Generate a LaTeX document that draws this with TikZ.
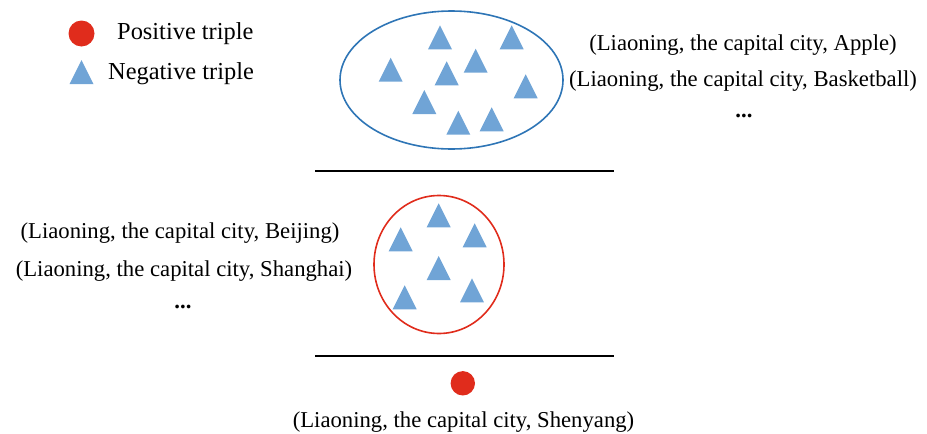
\documentclass[tikz,border=0pt]{standalone}
\usepackage{fontspec}
\setmainfont{Liberation Serif}
\definecolor{tri}{RGB}{112,164,214}
\definecolor{ellblue}{RGB}{46,117,182}
\definecolor{posred}{RGB}{224,44,28}
\tikzset{
  lbl/.style={inner sep=0pt, font=\fontsize{22.7}{26}\selectfont},
  dotsnode/.style={inner sep=0pt, font=\fontsize{22.7}{26}\selectfont\bfseries},
  leg/.style={inner sep=0pt, anchor=west, font=\fontsize{24.4}{28}\selectfont},
  sepline/.style={line width=2pt, black},
}
% triangle: base centre given
\newcommand{\negtri}[2]{\fill[tri] (#1-12,#2) -- (#1+12,#2) -- (#1,#2-24) -- cycle;}
\begin{document}
\begin{tikzpicture}[x=1pt,y=-1pt]
\useasboundingbox (0,0) rectangle (927,434);
% legend
\fill[posred] (81.5,33.5) circle (13);
\node[leg] (lpos) at (117,34) {Positive triple};
\negtri{81.5}{84}
\node[leg] (lneg) at (108,74) {Negative triple};
% top ellipse
\draw[ellblue, line width=1.6pt] (451.5,80) ellipse (111.5 and 69);
\negtri{440}{49.3}
\negtri{511.7}{49.3}
\negtri{390.7}{81.7}
\negtri{446.7}{85.3}
\negtri{475.7}{72.7}
\negtri{525.7}{98.3}
\negtri{424.3}{114}
\negtri{458.3}{134.7}
\negtri{491.7}{131.3}
% right texts
\node[lbl] (apple) at (743,45) {(Liaoning, the capital city, Apple)};
\node[lbl] (basket) at (743,81.5) {(Liaoning, the capital city, Basketball)};
\node[dotsnode] (rdots) at (744,115.7) {...};
% line 1
\coordinate (l1a) at (315,170.7);
\coordinate (l1b) at (614,170.7);
\draw[sepline] (l1a) -- (l1b);
% red circle
\draw[posred, line width=1.6pt] (439,264.5) ellipse (65 and 69);
\negtri{438.7}{227.3}
\negtri{400.7}{251.3}
\negtri{474.7}{247.3}
\negtri{438.7}{280}
\negtri{404.7}{309.3}
\negtri{472}{302.3}
% left texts
\node[lbl] (beijing) at (180,233) {(Liaoning, the capital city, Beijing)};
\node[lbl] (shanghai) at (184,271.5) {(Liaoning, the capital city, Shanghai)};
\node[dotsnode] (ldots) at (183,307) {...};
% line 2
\coordinate (l2a) at (315,356);
\coordinate (l2b) at (614,356);
\draw[sepline] (l2a) -- (l2b);
% bottom
\fill[posred] (462.8,383.3) circle (12.2);
\node[lbl] (shen) at (463.5,422) {(Liaoning, the capital city, Shenyang)};
\end{tikzpicture}
\end{document}
